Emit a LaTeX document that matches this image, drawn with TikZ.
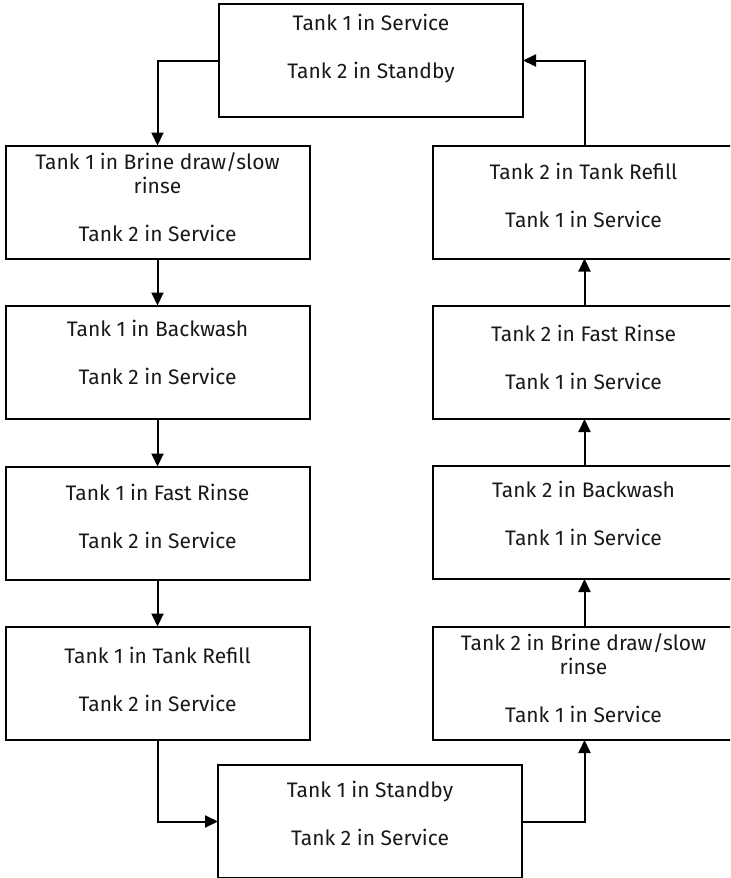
\documentclass[tikz,border=0pt]{standalone}
\usepackage{fontspec}
\setmainfont{Fira Sans}
\usetikzlibrary{arrows.meta}
\begin{document}
\begin{tikzpicture}[x=0.5pt,y=-0.5pt,
  stbox/.style={draw=black, line width=1pt, minimum width=152pt, minimum height=56.5pt, inner sep=0pt, outer sep=0pt},
  lbl/.style={align=center, font=\fontsize{10.5}{12}\selectfont, inner sep=0pt, text=black!90},
  arr/.style={-{Triangle[length=6.5pt,width=6pt]}, line width=1pt}]
\useasboundingbox (0,0) rectangle (730,878);
\clip (0,0) rectangle (730,878);
% boxes
\node[stbox] (top) at (371,60.5) {};
\node[stbox] (l1) at (157.5,202) {};
\node[stbox] (l2) at (157.5,362) {};
\node[stbox] (l3) at (157.5,523) {};
\node[stbox] (l4) at (157.5,683) {};
\node[stbox] (bot) at (370,821.5) {};
\node[stbox] (r1) at (584.5,202) {};
\node[stbox] (r2) at (584.5,362.5) {};
\node[stbox] (r3) at (584.5,522.5) {};
\node[stbox] (r4) at (584.5,683.5) {};
% texts
\node[lbl] (ttop) at (371,49) {Tank 1 in Service\\[12pt]Tank 2 in Standby};
\node[lbl] (tl1) at (157.5,197.5) {Tank 1 in Brine draw/slow\\rinse\\[12pt]Tank 2 in Service};
\node[lbl] (tl2) at (157.5,352) {Tank 1 in Backwash\\[12pt]Tank 2 in Service};
\node[lbl] (tl3) at (157.5,516.5) {Tank 1 in Fast Rinse\\[12pt]Tank 2 in Service};
\node[lbl] (tl4) at (157.5,679) {Tank 1 in Tank Refill\\[12pt]Tank 2 in Service};
\node[lbl] (tbot) at (370,813) {Tank 1 in Standby\\[12pt]Tank 2 in Service};
\node[lbl] (tr1) at (583.5,195) {Tank 2 in Tank Refill\\[12pt]Tank 1 in Service};
\node[lbl] (tr2) at (583.5,357) {Tank 2 in Fast Rinse\\[12pt]Tank 1 in Service};
\node[lbl] (tr3) at (583.5,513) {Tank 2 in Backwash\\[12pt]Tank 1 in Service};
\node[lbl] (tr4) at (583.5,678) {Tank 2 in Brine draw/slow\\rinse\\[12pt]Tank 1 in Service};
% connectors
\draw[arr] (top.west) -| (l1.north);
\draw[arr] (l1.south) -- (l2.north);
\draw[arr] (l2.south) -- (l3.north);
\draw[arr] (l3.south) -- (l4.north);
\draw[arr] (l4.south) |- (bot.west);
\draw[arr] (bot.east) -| (r4.south);
\draw[arr] (r4.north) -- (r3.south);
\draw[arr] (r3.north) -- (r2.south);
\draw[arr] (r2.north) -- (r1.south);
\draw[arr] (r1.north) |- (top.east);
\end{tikzpicture}
\end{document}
